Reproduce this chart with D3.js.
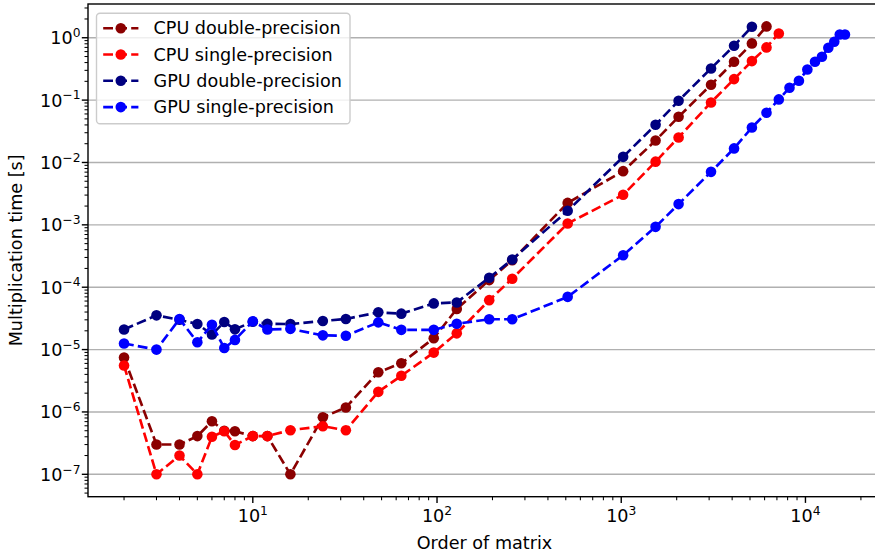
<!DOCTYPE html>
<html>
<head>
<meta charset="utf-8">
<script src="https://cdn.jsdelivr.net/npm/d3@7"></script>
<style>
  html, body { margin: 0; padding: 0; background: #fff; }
  svg { display: block; font-family: "DejaVu Sans", sans-serif; }
</style>
</head>
<body>
<svg id="chart" width="875" height="554"></svg>
<script>
// ---- data ----
const seriesNames = ["CPU double-precision", "CPU single-precision", "GPU double-precision", "GPU single-precision"];
const seriesColors = ["#8b0000", "#ff0000", "#000080", "#0000ff"];

const xCPUdouble = [2,3,4,5,6,7,8,10,12,16,24,32,48,64,96,128,192,256,512,1024,1536,2048,3072,4096,5120,6144];
const yCPUdouble = [7.45e-6,3.0e-7,3.0e-7,4.1e-7,7.1e-7,5.0e-7,4.9e-7,4.1e-7,4.1e-7,1.0e-7,8.2e-7,1.18e-6,4.33e-6,6.04e-6,1.52e-5,4.48e-5,1.3e-4,2.7e-4,2.25e-3,7.26e-3,2.25e-2,5.4e-2,0.176,0.412,0.811,1.52];

const xCPUsingle = [2,3,4,5,6,7,8,10,12,16,24,32,48,64,96,128,192,256,512,1024,1536,2048,3072,4096,5120,6144,7168];
const yCPUsingle = [5.55e-6,1.0e-7,2.0e-7,1.0e-7,4.0e-7,4.9e-7,2.95e-7,4.1e-7,4.1e-7,5.1e-7,5.9e-7,5.1e-7,2.1e-6,3.8e-6,8.95e-6,1.82e-5,6.2e-5,1.37e-4,1.05e-3,3.03e-3,1.03e-2,2.52e-2,9.18e-2,0.217,0.422,0.70,1.17];

const xGPUdouble = [2,3,4,5,6,7,8,10,12,16,24,32,48,64,96,128,192,256,512,1024,1536,2048,3072,4096,5120];
const yGPUdouble = [2.1e-5,3.54e-5,3.0e-5,2.57e-5,1.74e-5,2.77e-5,2.11e-5,2.8e-5,2.6e-5,2.56e-5,2.88e-5,3.1e-5,3.95e-5,3.77e-5,5.5e-5,5.7e-5,1.42e-4,2.78e-4,1.68e-3,1.23e-2,4.02e-2,9.76e-2,0.322,0.744,1.5];

const xGPUsingle = [2,3,4,5,6,7,8,10,12,16,24,32,48,64,96,128,192,256,512,1024,1536,2048,3072,4096,5120,6144,7168,8192,9216,10240,11264,12288,13312,14336,15360,16384];
const yGPUsingle = [1.25e-5,1.0e-5,3.1e-5,1.31e-5,2.5e-5,1.06e-5,1.43e-5,2.84e-5,2.1e-5,2.15e-5,1.69e-5,1.67e-5,2.73e-5,2.07e-5,2.07e-5,2.6e-5,3.06e-5,3.06e-5,7.0e-5,3.26e-4,9.29e-4,2.15e-3,7.08e-3,1.68e-2,3.64e-2,6.26e-2,0.1026,0.158,0.204,0.31,0.412,0.496,0.69,0.863,1.13,1.13];

const xMajorTicks = [10, 100, 1000, 10000];
const yMajorTicks = [1e-7, 1e-6, 1e-5, 1e-4, 1e-3, 1e-2, 1e-1, 1];
const xLabel = "Order of matrix";
const yLabel = "Multiplication time [s]";

// ---- layout ----
const svg = d3.select("#chart");
const L = 88, T = 4, R = 881, B = 496.7;
const FS = 17.6;

const x = d3.scaleLog().domain([Math.pow(10, 0.10536), Math.pow(10, 4.41009)]).range([L, R]);
const y = d3.scaleLog().domain([Math.pow(10, -7.359), Math.pow(10, 0.541)]).range([B, T]);

const series = [
  {name: seriesNames[0], color: seriesColors[0], xs: xCPUdouble, ys: yCPUdouble},
  {name: seriesNames[1], color: seriesColors[1], xs: xCPUsingle, ys: yCPUsingle},
  {name: seriesNames[2], color: seriesColors[2], xs: xGPUdouble, ys: yGPUdouble},
  {name: seriesNames[3], color: seriesColors[3], xs: xGPUsingle, ys: yGPUsingle}
];

// clip
svg.append("defs").append("clipPath").attr("id", "clip")
  .append("rect").attr("x", L).attr("y", T).attr("width", R - L).attr("height", B - T);

// grid (horizontal at major y ticks)
svg.append("g").selectAll("line").data(yMajorTicks).join("line")
  .attr("x1", L).attr("x2", R)
  .attr("y1", d => y(d)).attr("y2", d => y(d))
  .attr("stroke", "#b0b0b0").attr("stroke-width", 1.4);

// series
const lineGen = d3.line().x(d => x(d[0])).y(d => y(d[1]));
const plot = svg.append("g").attr("clip-path", "url(#clip)");
series.forEach(s => {
  const pts = s.xs.map((v, i) => [v, s.ys[i]]);
  plot.append("path").datum(pts)
    .attr("d", lineGen)
    .attr("fill", "none")
    .attr("stroke", s.color)
    .attr("stroke-width", 2.64)
    .attr("stroke-dasharray", "9.8,4.2");
  plot.append("g").selectAll("circle").data(pts).join("circle")
    .attr("cx", d => x(d[0])).attr("cy", d => y(d[1]))
    .attr("r", 5.3).attr("fill", s.color);
});

// minor ticks helpers
function minorTicks(lo, hi) {
  const out = [];
  for (let e = Math.floor(Math.log10(lo)) - 1; e <= Math.ceil(Math.log10(hi)); e++) {
    for (let m = 2; m <= 9; m++) {
      const v = m * Math.pow(10, e);
      if (v >= lo && v <= hi) out.push(v);
    }
  }
  return out;
}
const [xlo, xhi] = x.domain();
const [ylo, yhi] = y.domain();

// axes ticks
const axes = svg.append("g");
axes.selectAll(".xmin").data(minorTicks(xlo, xhi)).join("line")
  .attr("x1", d => x(d)).attr("x2", d => x(d)).attr("y1", B).attr("y2", B + 3.5)
  .attr("stroke", "#000").attr("stroke-width", 1.05);
axes.selectAll(".xmaj").data(xMajorTicks).join("line")
  .attr("x1", d => x(d)).attr("x2", d => x(d)).attr("y1", B).attr("y2", B + 6.2)
  .attr("stroke", "#000").attr("stroke-width", 1.4);
axes.selectAll(".ymin").data(minorTicks(ylo, yhi)).join("line")
  .attr("y1", d => y(d)).attr("y2", d => y(d)).attr("x1", L).attr("x2", L - 3.5)
  .attr("stroke", "#000").attr("stroke-width", 1.05);
axes.selectAll(".ymaj").data(yMajorTicks).join("line")
  .attr("y1", d => y(d)).attr("y2", d => y(d)).attr("x1", L).attr("x2", L - 6.2)
  .attr("stroke", "#000").attr("stroke-width", 1.4);

// spines
axes.append("rect").attr("x", L).attr("y", T).attr("width", R - L).attr("height", B - T)
  .attr("fill", "none").attr("stroke", "#000").attr("stroke-width", 1.4);

// tick labels
function expText(sel, v) {
  const e = Math.round(Math.log10(v));
  sel.append("tspan").text("10");
  sel.append("tspan").attr("font-size", 12.3).attr("dy", -7.2)
    .text(e < 0 ? "\u2212" + (-e) : String(e));
}
xMajorTicks.forEach(v => {
  const t = svg.append("text").attr("x", x(v)).attr("y", 522.3)
    .attr("text-anchor", "middle").attr("font-size", FS).attr("fill", "#000");
  expText(t, v);
});
yMajorTicks.forEach(v => {
  const t = svg.append("text").attr("x", 80.5).attr("y", y(v) + 6.4)
    .attr("text-anchor", "end").attr("font-size", FS).attr("fill", "#000");
  expText(t, v);
});

// axis labels
svg.append("text").attr("x", (L + R) / 2).attr("y", 549)
  .attr("text-anchor", "middle").attr("font-size", FS).text(xLabel);
svg.append("text").attr("transform", `translate(21.7,${(T + B) / 2}) rotate(-90)`)
  .attr("text-anchor", "middle").attr("font-size", FS).text(yLabel);

// legend
const lg = svg.append("g");
lg.append("rect").attr("x", 96.5).attr("y", 13.3).attr("width", 253.5).attr("height", 110.5)
  .attr("rx", 3.5).attr("ry", 3.5)
  .attr("fill", "#fff").attr("fill-opacity", 0.8)
  .attr("stroke", "#cccccc").attr("stroke-width", 1.4);
series.forEach((s, i) => {
  const cy = 28.2 + i * 26.3;
  lg.append("line").attr("x1", 103.2).attr("x2", 138.4).attr("y1", cy).attr("y2", cy)
    .attr("stroke", s.color).attr("stroke-width", 2.64).attr("stroke-dasharray", "9.8,4.2");
  lg.append("circle").attr("cx", 120.8).attr("cy", cy).attr("r", 5.3).attr("fill", s.color);
  lg.append("text").attr("x", 153.5).attr("y", cy + 6.2).attr("font-size", FS)
    .attr("fill", "#000").text(s.name);
});
</script>
</body>
</html>
